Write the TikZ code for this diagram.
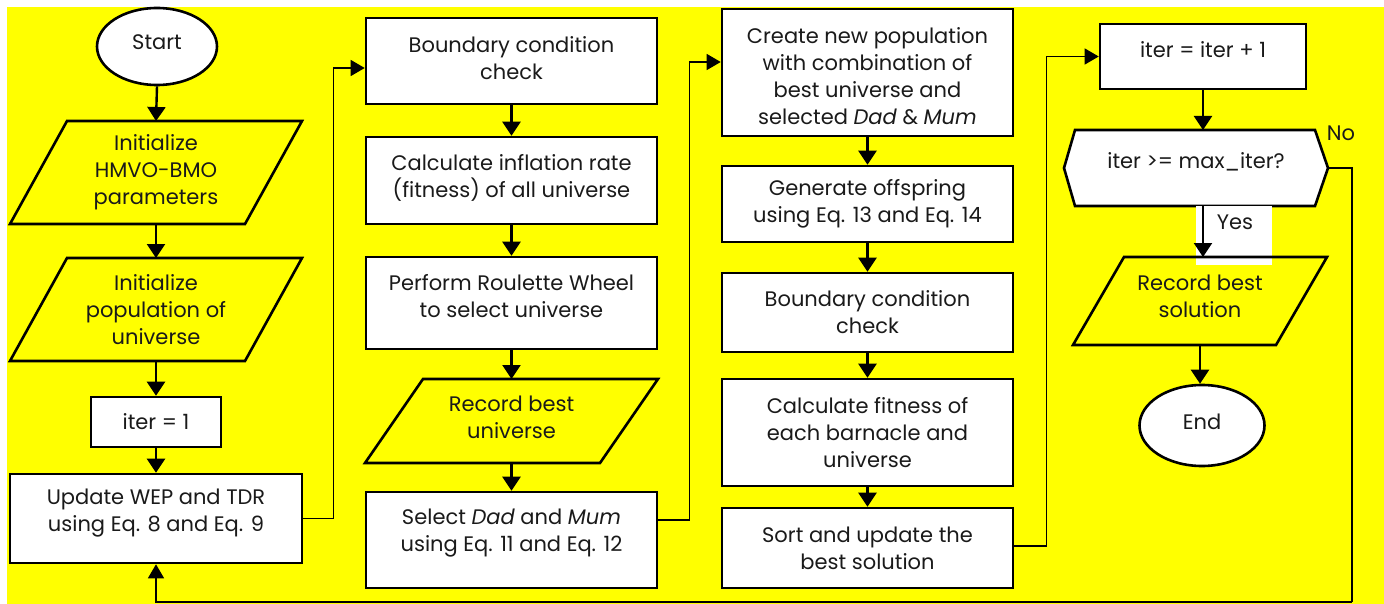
\documentclass[tikz,border=0pt]{standalone}
\usepackage{fontspec}
\setmainfont{Poppins}
\usetikzlibrary{arrows.meta,calc,shapes.geometric}
\pgfdeclarelayer{bg}
\pgfdeclarelayer{mid}
\pgfsetlayers{bg,mid,main}
\definecolor{txt}{HTML}{1A1A1A}
\definecolor{bgyellow}{HTML}{FFFF00}
\newcommand\dpad[1]{\rule[-#1pt]{0pt}{#1pt}}
\newcommand\hpad[1]{\rule{0pt}{#1pt}}
\begin{document}
\begin{tikzpicture}[x=1pt,y=-1pt,
  font=\fontsize{21}{27}\selectfont,
  box/.style={draw=black, line width=2.6pt, fill=white, align=center, minimum width=291pt, inner sep=0pt, text=txt},
  para/.style={align=center, inner sep=0pt, outer sep=0pt, text=txt},
  pline/.style={draw=black, line width=2.6pt, line join=miter},
  ell/.style={ellipse, draw=black, line width=2.6pt, fill=white, inner sep=0pt, text=txt},
  arr/.style={line width=2.4pt, -{Triangle[width=18pt,length=14pt]}},
  thinarr/.style={line width=1.3pt, -{Triangle[width=16pt,length=14pt]}},
  thinline/.style={line width=1.3pt},
]
\useasboundingbox (0,0) rectangle (1384,604);
\begin{pgfonlayer}{bg}
\fill[bgyellow] (7,7) rectangle (1384,604);
\end{pgfonlayer}

% column 1
\node[ell, minimum width=120pt, minimum height=77pt] (start) at (157,46.5) {Start\dpad{9}};
\node[para, minimum width=292pt, minimum height=103pt] (p1) at (156,172.5) {Initialize\\HMVO-BMO\\parameters};
\draw[pline] ($(p1.north west)+(57,0)$) -- (p1.north east) -- ($(p1.south east)-(57,0)$) -- (p1.south west) -- cycle;
\node[para, minimum width=292pt, minimum height=103pt] (p2) at (156,309.5) {Initialize\\population of\\universe};
\draw[pline] ($(p2.north west)+(57,0)$) -- (p2.north east) -- ($(p2.south east)-(57,0)$) -- (p2.south west) -- cycle;
\node[box, minimum width=130pt, minimum height=50pt] (it1) at (156,422) {iter = 1};
\node[box, minimum width=292pt, minimum height=89pt] (upd) at (156,518.5) {Update WEP and TDR\\using Eq. 8 and Eq. 9\dpad{16}};

% column 2
\node[box, minimum height=86pt] (bc1) at (511.5,61) {Boundary condition\\check\dpad{6}};
\node[box, minimum height=87pt] (inf) at (511.5,180.5) {Calculate inflation rate\\(fitness) of all universe\dpad{10}};
\node[box, minimum height=92pt] (rw) at (511.5,303) {Perform Roulette Wheel\\to select universe\dpad{14}};
\node[para, minimum width=293pt, minimum height=84pt] (rbu) at (511.5,421) {Record best\\universe\dpad{7}};
\draw[pline] ($(rbu.north west)+(58,0)$) -- (rbu.north east) -- ($(rbu.south east)-(58,0)$) -- (rbu.south west) -- cycle;
\node[box, minimum height=96pt] (sel) at (511.5,540) {Select \textit{Dad} and \textit{Mum}\\using Eq. 11 and Eq. 12\dpad{20}};

% column 3
\node[box, minimum height=127pt] (create) at (867.5,72.5) {\hpad{23}Create new population\\with combination of\\best universe and\\selected \textit{Dad} \& \textit{Mum}};
\node[box, minimum height=76pt] (gen) at (867.5,204) {Generate offspring\\using Eq. 13 and Eq. 14};
\node[box, minimum height=79pt] (bc2) at (867.5,312.5) {Boundary condition\\check};
\node[box, minimum height=107pt] (fit) at (867.5,432.5) {Calculate fitness of\\each barnacle and\\universe};
\node[box, minimum height=80pt] (sort) at (867.5,548) {Sort and update the\\best solution};

% column 4
\node[box, minimum width=206pt, minimum height=65pt] (inc) at (1203,56.5) {iter = iter + 1\dpad{13}};
\node[para, minimum width=264pt, minimum height=76pt] (dec) at (1196,168) {iter >= max\_iter?\dpad{14}};
\begin{pgfonlayer}{mid}
\draw[pline, fill=white] (dec.west) -- ($(dec.north west)+(11,0)$) -- ($(dec.north east)-(13,0)$) -- (dec.east) -- ($(dec.south east)-(13,0)$) -- ($(dec.south west)+(11,0)$) -- cycle;
\fill[white] (1196,206) rectangle (1272,265);
\end{pgfonlayer}
\node[text=txt, inner sep=0pt] (yes) at (1235,222) {Yes};
\node[text=txt, inner sep=0pt] (no) at (1341,133) {No};
\node[para, minimum width=254pt, minimum height=88pt] (rec) at (1200,301) {Record best\\solution\dpad{10}};
\draw[pline] ($(rec.north west)+(51,0)$) -- (rec.north east) -- ($(rec.south east)-(51,0)$) -- (rec.south west) -- cycle;
\node[ell, minimum width=125pt, minimum height=81pt] (end) at (1202,425.5) {End\dpad{7}};

\coordinate (lr) at (1352,602);

% connectors column 1
\draw[arr] (start.south) -- (p1.north);
\draw[arr] (p1.south) -- (p2.north);
\draw[arr] (p2.south) -- (it1.north);
\draw[arr] (it1.south) -- (upd.north);
\draw[thinarr] (upd.east) -- ++(30,0) |- ($(bc1.west)+(0,7)$);

% column 2
\draw[arr] (bc1.south) -- (inf.north);
\draw[arr] (inf.south) -- (rw.north);
\draw[arr] (rw.south) -- (rbu.north);
\draw[arr] (rbu.south) -- (sel.north);
\draw[thinarr] ($(sel.east)+(0,-20)$) -- ++(31,0) |- ($(create.west)+(0,-10.5)$);

% column 3
\draw[arr] (create.south) -- (gen.north);
\draw[arr] (gen.south) -- (bc2.north);
\draw[arr] (bc2.south) -- (fit.north);
\draw[arr] (fit.south) -- (sort.north);
\draw[thinarr] ($(sort.east)+(0,-2)$) -- ++(32,0) |- (inc.west);

% column 4
\draw[arr] (inc.south) -- (inc.south |- dec.north);
\draw[arr] (inc.south |- dec.south) -- (inc.south |- rec.north);
\draw[arr] (rec.south) -- (rec.south |- end.north);
\draw[thinline] (dec.east) -| (lr);
\draw[thinarr] (lr) -- (lr -| upd.south) -- (upd.south);
\end{tikzpicture}
\end{document}
